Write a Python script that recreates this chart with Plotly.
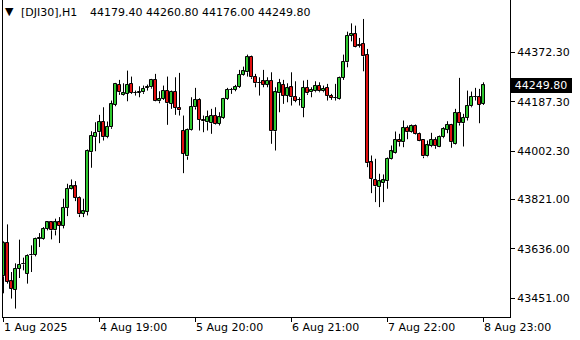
import plotly.graph_objects as go

symbol_text = "[DJI30],H1"
bar_index = list(range(121))

open_ = [
43533.4, 43658.1, 43514.7, 43483.6, 43562.2, 43578.3, 43543.5, 43612.0, 43613.1, 43673.8,
43674.6, 43712.0, 43735.6, 43705.6, 43735.6, 43723.2, 43790.7, 43861.8, 43870.4, 43828.1,
43768.2, 43774.2, 43998.9, 44055.1, 44073.8, 44113.9, 44055.1, 44092.5, 44176.4, 44252.4,
44213.8, 44217.6, 44255.0, 44220.6, 44221.3, 44223.6, 44241.2, 44242.3, 44270.0, 44189.9,
44198.9, 44229.9, 44180.1, 44226.2, 44165.2, 44080.1, 43982.8, 44083.9, 44167.4, 44195.1,
44121.3, 44111.2, 44107.5, 44136.3, 44105.2, 44127.7, 44198.9, 44231.8, 44232.6, 44244.9,
44289.9, 44298.5, 44357.3, 44282.4, 44258.0, 44264.8, 44252.4, 44267.4, 44077.5, 44219.8,
44252.4, 44211.2, 44242.3, 44207.5, 44195.1, 44165.2, 44240.1, 44223.6, 44227.3, 44248.7,
44227.3, 44240.1, 44211.2, 44202.6, 44198.9, 44277.5, 44335.9, 44434.8, 44442.3, 44402.2,
44404.8, 44364.8, 43960.3, 43895.5, 43867.8, 43882.8, 43890.3, 43974.2, 43995.1, 44045.3,
44036.3, 44090.3, 44073.8, 44098.9, 44067.8, 44045.3, 43982.8, 44021.4, 44046.4, 44020.2,
44055.1, 44083.9, 44101.5, 44030.3, 44146.4, 44107.5, 44127.7, 44171.2, 44206.4, 44204.9,
44179.4]

high = [
43664.5, 43728.1, 43549.5, 43582.1, 43670.8, 43603.4, 43615.8, 43649.5, 43678.3, 43695.5,
43718.0, 43740.5, 43740.5, 43749.5, 43755.5, 43824.4, 43880.5, 43896.6, 43890.3, 43833.0,
43824.4, 44009.0, 44077.5, 44111.2, 44138.9, 44167.4, 44113.9, 44192.5, 44258.8, 44270.0,
44257.3, 44304.8, 44282.4, 44229.9, 44246.1, 44248.7, 44252.4, 44273.8, 44292.5, 44227.3,
44248.7, 44282.4, 44229.9, 44279.8, 44296.2, 44136.3, 44087.6, 44204.9, 44240.1, 44201.1,
44136.3, 44155.0, 44161.4, 44167.4, 44148.7, 44202.6, 44240.1, 44240.1, 44251.3, 44307.5,
44319.8, 44364.8, 44361.0, 44292.5, 44279.8, 44307.5, 44279.8, 44298.5, 44242.3, 44273.8,
44270.0, 44257.3, 44298.5, 44264.8, 44204.9, 44267.4, 44270.0, 44242.3, 44264.8, 44261.0,
44248.7, 44255.0, 44217.6, 44255.0, 44282.4, 44364.8, 44450.9, 44482.0, 44473.4, 44427.3,
44498.5, 44386.1, 43986.5, 43974.2, 43918.0, 43915.4, 43979.0, 44024.0, 44076.4, 44067.8,
44117.6, 44098.9, 44102.6, 44102.6, 44072.7, 44047.6, 44042.7, 44071.5, 44055.1, 44061.4,
44092.5, 44115.0, 44105.2, 44161.4, 44277.5, 44142.7, 44229.9, 44226.2, 44240.1, 44236.3,
44260.8]

low = [
43469.7, 43506.0, 43449.9, 43412.4, 43527.0, 43555.8, 43506.0, 43549.5, 43608.3, 43643.1,
43670.8, 43705.6, 43671.9, 43686.9, 43658.1, 43713.1, 43759.2, 43859.2, 43815.4, 43755.5,
43755.5, 43761.8, 43940.5, 44002.6, 44032.6, 44042.7, 44051.3, 44086.5, 44171.2, 44213.8,
44211.2, 44189.9, 44217.6, 44211.2, 44204.9, 44217.6, 44229.9, 44237.4, 44188.8, 44182.4,
44195.1, 44101.5, 44161.4, 44138.9, 44136.3, 43920.2, 43970.4, 44080.1, 44158.8, 44080.1,
44073.8, 44080.1, 44067.8, 44102.6, 44098.9, 44124.0, 44195.1, 44217.6, 44227.3, 44240.1,
44286.1, 44282.4, 44273.8, 44242.3, 44211.2, 44242.3, 44242.3, 44030.3, 44005.2, 44148.7,
44180.1, 44186.1, 44173.8, 44186.1, 44173.8, 44130.0, 44213.8, 44204.9, 44223.6, 44223.6,
44223.6, 44192.5, 44195.1, 44192.5, 44196.2, 44270.0, 44317.2, 44414.6, 44392.1, 44391.0,
44302.2, 43942.7, 43845.3, 43811.6, 43792.9, 43811.6, 43861.8, 43971.5, 43992.9, 44020.2,
44017.6, 44047.6, 44071.5, 44065.2, 44040.1, 43976.4, 43980.2, 44017.6, 44011.6, 44017.6,
44051.3, 44070.0, 44015.4, 44027.7, 44098.9, 44020.2, 44117.6, 44167.4, 44192.5, 44107.5,
44176.0]

close = [
43658.1, 43512.0, 43487.3, 43562.2, 43577.2, 43580.2, 43610.9, 43613.9, 43674.6, 43675.7,
43712.0, 43735.6, 43705.6, 43735.6, 43723.2, 43790.7, 43861.8, 43870.4, 43828.1, 43765.6,
43776.8, 44005.2, 44060.3, 44072.7, 44113.9, 44055.1, 44095.1, 44178.6, 44256.2, 44223.6,
44222.5, 44252.4, 44221.3, 44222.5, 44226.2, 44236.3, 44243.1, 44270.0, 44189.9, 44198.9,
44229.9, 44182.4, 44226.2, 44165.2, 44156.2, 43992.9, 44083.9, 44170.0, 44195.1, 44120.2,
44115.0, 44132.6, 44136.3, 44105.2, 44130.0, 44198.9, 44232.6, 44232.6, 44244.9, 44289.9,
44302.2, 44355.4, 44279.8, 44257.3, 44258.8, 44252.4, 44267.4, 44077.5, 44223.6, 44257.3,
44211.2, 44238.6, 44204.9, 44192.5, 44196.2, 44240.1, 44219.8, 44232.6, 44248.7, 44227.3,
44236.3, 44211.2, 44202.6, 44203.7, 44277.5, 44338.6, 44435.9, 44442.3, 44394.7, 44397.4,
44358.4, 43957.7, 43899.3, 43870.4, 43889.2, 43892.9, 43974.2, 44001.5, 44045.3, 44036.3,
44090.3, 44073.8, 44098.9, 44067.8, 44042.7, 43982.8, 44024.0, 44046.4, 44021.4, 44057.7,
44086.5, 44101.5, 44036.3, 44146.4, 44107.5, 44127.7, 44173.8, 44207.5, 44207.5, 44176.4,
44249.8]

price_ticks = [43451.00, 43636.00, 43821.00, 44002.30, 44187.30, 44372.30]
time_tick_index = [0, 24, 48, 72, 96, 120]
time_tick_labels = ["1 Aug 2025", "4 Aug 19:00", "5 Aug 20:00", "6 Aug 21:00",
                    "7 Aug 22:00", "8 Aug 23:00"]

FONT = "DejaVu Sans"
BULL = "#2ec82e"
BEAR = "#e01010"
last = len(close) - 1

# wicks: upper (body top -> high) and lower (low -> body bottom), with gaps
wx, wy = [], []
for i, o, h, l, c in zip(bar_index, open_, high, low, close):
    top, bot = max(o, c), min(o, c)
    wx += [i, i, None, i, i, None]
    wy += [top, h, None, l, bot, None]

up_x, up_base, up_h = [], [], []
dn_x, dn_base, dn_h = [], [], []
for i, o, c in zip(bar_index, open_, close):
    if c >= o:
        up_x.append(i); up_base.append(o); up_h.append(c - o)
    else:
        dn_x.append(i); dn_base.append(c); dn_h.append(o - c)

fig = go.Figure()
fig.add_trace(go.Bar(x=up_x, y=up_h, base=up_base, width=0.6,
                     marker=dict(color=BULL, line=dict(color="black", width=1)),
                     hoverinfo="skip", showlegend=False))
fig.add_trace(go.Bar(x=dn_x, y=dn_h, base=dn_base, width=0.6,
                     marker=dict(color=BEAR, line=dict(color="black", width=1)),
                     hoverinfo="skip", showlegend=False))
fig.add_trace(go.Scatter(x=wx, y=wy, mode="lines",
                         line=dict(color="black", width=1),
                         hoverinfo="skip", showlegend=False))

annotations = []
for idx, lab in zip(time_tick_index, time_tick_labels):
    annotations.append(dict(
        x=idx, xref="x", y=0, yref="paper", text=lab, showarrow=False,
        xanchor="left", yanchor="top", xshift=-2, yshift=-2,
        font=dict(family=FONT, size=11, color="black")))

annotations.append(dict(
    x=0, xref="paper", y=1, yref="paper", text="▼", showarrow=False,
    xanchor="left", yanchor="top", xshift=0, yshift=-3,
    font=dict(family=FONT, size=11, color="black")))
annotations.append(dict(
    x=0, xref="paper", y=1, yref="paper", text=symbol_text, showarrow=False,
    xanchor="left", yanchor="top", xshift=16, yshift=-4,
    font=dict(family=FONT, size=11, color="black")))
annotations.append(dict(
    x=0, xref="paper", y=1, yref="paper",
    text=f"{open_[last]:.2f} {high[last]:.2f} {low[last]:.2f} {close[last]:.2f}",
    showarrow=False, xanchor="left", yanchor="top", xshift=85, yshift=-4,
    font=dict(family=FONT, size=11, color="black")))

annotations.append(dict(
    x=1, xref="paper", y=close[last], yref="y", text=f"{close[last]:.2f}",
    showarrow=False, xanchor="left", yanchor="middle", xshift=0,
    bgcolor="black", borderpad=1, borderwidth=0, width=60, height=13,
    font=dict(family=FONT, size=11, color="white")))

fig.update_layout(
    width=580, height=340,
    margin=dict(l=3, r=70, t=0, b=23),
    paper_bgcolor="white", plot_bgcolor="white",
    showlegend=False,
    barmode="overlay", bargap=0, bargroupgap=0,
    annotations=annotations,
    font=dict(family=FONT, size=11, color="black"),
    xaxis=dict(
        range=[-0.125, 126.625], showgrid=False, zeroline=False,
        showline=True, linecolor="black", linewidth=1,
        tickmode="array", tickvals=time_tick_index, showticklabels=False,
        ticks="outside", ticklen=4, tickcolor="black", tickwidth=1,
    ),
    yaxis=dict(
        range=[43380.8, 44569.6], side="right", showgrid=False, zeroline=False,
        showline=True, mirror=True, linecolor="black", linewidth=1,
        tickmode="array", tickvals=price_ticks,
        ticktext=[f"{v:.2f}" for v in price_ticks],
        ticks="outside", ticklen=4, tickcolor="black", tickwidth=1,
        tickfont=dict(family=FONT, size=11, color="black"),
    ),
)

fig.write_html("out.html")
